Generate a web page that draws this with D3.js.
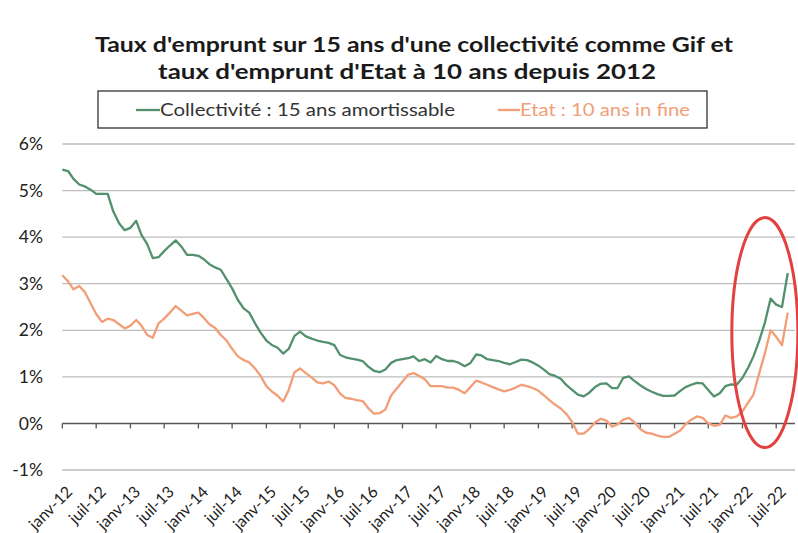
<!DOCTYPE html>
<html>
<head>
<meta charset="utf-8">
<script src="https://cdnjs.cloudflare.com/ajax/libs/d3/7.8.5/d3.min.js"></script>
<style>
  body { margin: 0; background: #fff; }
  svg { display: block; font-family: Lato, "Open Sans", sans-serif; }
</style>
</head>
<body>
<svg id="chart"></svg>
<script>
// titre et légende
const titleLines = [
  "Taux d'emprunt sur 15 ans d'une collectivité comme Gif et",
  "taux d'emprunt d'Etat à 10 ans depuis 2012"
];
const seriesNames = ["Collectivité : 15 ans amortissable", "Etat : 10 ans in fine"];

// séries mensuelles, janv-12 -> sept-22 (en %)
const collectivite = [
  5.45, 5.42, 5.25, 5.13, 5.09, 5.02, 4.93, 4.93, 4.93, 4.55, 4.30, 4.15,
  4.20, 4.35, 4.05, 3.85, 3.55, 3.57, 3.70, 3.82, 3.93, 3.80, 3.62, 3.62,
  3.60, 3.52, 3.42, 3.35, 3.30, 3.10, 2.90, 2.65, 2.47, 2.38, 2.15, 1.95,
  1.78, 1.68, 1.63, 1.50, 1.60, 1.88, 1.97, 1.87, 1.82, 1.78, 1.75, 1.73,
  1.68, 1.47, 1.42, 1.39, 1.37, 1.34, 1.22, 1.13, 1.10, 1.16, 1.30, 1.36,
  1.38, 1.40, 1.44, 1.34, 1.38, 1.31, 1.45, 1.38, 1.34, 1.34, 1.30, 1.23,
  1.30, 1.48, 1.46, 1.38, 1.36, 1.34, 1.30, 1.27, 1.32, 1.37, 1.36, 1.31,
  1.24, 1.15, 1.06, 1.02, 0.96, 0.82, 0.72, 0.62, 0.58, 0.66, 0.78, 0.85,
  0.86, 0.76, 0.76, 0.98, 1.01, 0.91, 0.82, 0.74, 0.68, 0.63, 0.59, 0.59,
  0.60, 0.70, 0.78, 0.83, 0.87, 0.86, 0.72, 0.58, 0.65, 0.80, 0.84, 0.83,
  0.98, 1.20, 1.44, 1.78, 2.16, 2.68, 2.55, 2.50, 3.23
];
const etat = [
  3.18, 3.05, 2.88, 2.95, 2.82, 2.58, 2.35, 2.18, 2.25, 2.22, 2.13, 2.04,
  2.10, 2.22, 2.10, 1.90, 1.84, 2.15, 2.25, 2.38, 2.52, 2.42, 2.32, 2.35,
  2.38, 2.26, 2.13, 2.05, 1.90, 1.78, 1.60, 1.44, 1.36, 1.31, 1.18, 1.02,
  0.80, 0.68, 0.60, 0.47, 0.72, 1.10, 1.18, 1.08, 0.99, 0.88, 0.86, 0.90,
  0.82, 0.64, 0.55, 0.53, 0.50, 0.48, 0.33, 0.21, 0.22, 0.30, 0.60, 0.75,
  0.90, 1.05, 1.08, 1.02, 0.95, 0.80, 0.80, 0.80, 0.77, 0.77, 0.72, 0.65,
  0.78, 0.92, 0.88, 0.83, 0.78, 0.73, 0.69, 0.72, 0.77, 0.83, 0.80, 0.76,
  0.70, 0.60, 0.50, 0.40, 0.32, 0.20, 0.03, -0.22, -0.22, -0.12, 0.02, 0.10,
  0.06, -0.07, -0.02, 0.08, 0.12, 0.02, -0.12, -0.20, -0.22, -0.26, -0.29, -0.29,
  -0.22, -0.15, -0.02, 0.08, 0.15, 0.12, 0.00, -0.05, -0.03, 0.17, 0.12, 0.15,
  0.26, 0.45, 0.62, 1.08, 1.50, 2.00, 1.86, 1.68, 2.38
];

const yTicks = [-1, 0, 1, 2, 3, 4, 5, 6];
const xTickLabels = [
  "janv-12", "juil-12", "janv-13", "juil-13", "janv-14", "juil-14",
  "janv-15", "juil-15", "janv-16", "juil-16", "janv-17", "juil-17",
  "janv-18", "juil-18", "janv-19", "juil-19", "janv-20", "juil-20",
  "janv-21", "juil-21", "janv-22", "juil-22"
];

const width = 798, height = 533;
const colGreen = "#52906e";
const colOrange = "#f29e78";

const svg = d3.select("#chart").attr("width", width).attr("height", height);

const months = d3.timeMonth.range(new Date(2012, 0, 1), new Date(2022, 9, 1));
const tickDates = d3.timeMonth.every(6).range(new Date(2012, 0, 1), new Date(2022, 8, 1));

const x = d3.scaleTime()
  .domain([new Date(2012, 0, 1), new Date(2022, 9, 10)])
  .range([62.3, 795]);
const y = d3.scaleLinear().domain([-1, 6]).range([470, 144]);

// grille horizontale
svg.append("g")
  .selectAll("line")
  .data(yTicks.filter(d => d !== 0))
  .enter().append("line")
  .attr("x1", x.range()[0]).attr("x2", x.range()[1])
  .attr("y1", d => y(d)).attr("y2", d => y(d))
  .attr("stroke", "#bdbdbd")
  .attr("stroke-width", 1.3);

// axe à 0%
svg.append("line")
  .attr("x1", x.range()[0]).attr("x2", x.range()[1])
  .attr("y1", y(0)).attr("y2", y(0))
  .attr("stroke", "#555")
  .attr("stroke-width", 1.6);

svg.append("g")
  .selectAll("line")
  .data(tickDates)
  .enter().append("line")
  .attr("x1", d => x(d)).attr("x2", d => x(d))
  .attr("y1", y(0)).attr("y2", y(0) + 5)
  .attr("stroke", "#555")
  .attr("stroke-width", 1.3);

// libellés Y
svg.append("g")
  .selectAll("text")
  .data(yTicks)
  .enter().append("text")
  .attr("x", 43)
  .attr("y", d => y(d))
  .attr("dy", "0.35em")
  .attr("text-anchor", "end")
  .attr("font-size", 17.5)
  .attr("fill", "#222")
  .text(d => d + "%");

// libellés X (pivotés)
svg.append("g")
  .selectAll("text")
  .data(tickDates)
  .enter().append("text")
  .attr("transform", d => `translate(${x(d) + 7},${489}) rotate(-45)`)
  .attr("text-anchor", "end")
  .attr("dy", "0.35em")
  .attr("font-size", 16)
  .attr("fill", "#222")
  .text((d, i) => xTickLabels[i]);

// courbes
const line = d3.line()
  .x((d, i) => x(months[i]))
  .y(d => y(d));

svg.append("path")
  .datum(etat)
  .attr("d", line)
  .attr("fill", "none")
  .attr("stroke", colOrange)
  .attr("stroke-width", 2.3)
  .attr("stroke-linejoin", "round");

svg.append("path")
  .datum(collectivite)
  .attr("d", line)
  .attr("fill", "none")
  .attr("stroke", colGreen)
  .attr("stroke-width", 2.3)
  .attr("stroke-linejoin", "round");

// ellipse rouge sur 2022
svg.append("ellipse")
  .attr("cx", x(new Date(2022, 4, 1)))
  .attr("cy", y(1.95))
  .attr("rx", 33)
  .attr("ry", 115)
  .attr("fill", "none")
  .attr("stroke", "#e2413f")
  .attr("stroke-width", 3);

// titre
svg.append("g")
  .selectAll("text")
  .data(titleLines)
  .enter().append("text")
  .attr("x", (d, i) => i === 0 ? 414 : 407)
  .attr("y", (d, i) => 52 + i * 27)
  .attr("text-anchor", "middle")
  .attr("font-size", 21)
  .attr("font-weight", "bold")
  .attr("fill", "#1a1a1a")
  .attr("textLength", (d, i) => i === 0 ? 638 : 498)
  .attr("lengthAdjust", "spacingAndGlyphs")
  .text(d => d);

// légende
const legend = svg.append("g");
legend.append("rect")
  .attr("x", 98).attr("y", 91)
  .attr("width", 609).attr("height", 37)
  .attr("fill", "#fff")
  .attr("stroke", "#333")
  .attr("stroke-width", 1.3);

const legendItems = [
  { name: seriesNames[0], color: colGreen, textColor: "#333", x0: 136, x1: 160, w: 295 },
  { name: seriesNames[1], color: colOrange, textColor: colOrange, x0: 498, x1: 520, w: 170 }
];
legendItems.forEach(it => {
  legend.append("line")
    .attr("x1", it.x0).attr("x2", it.x1)
    .attr("y1", 110).attr("y2", 110)
    .attr("stroke", it.color)
    .attr("stroke-width", 2.3);
  legend.append("text")
    .attr("x", it.x1)
    .attr("y", 116)
    .attr("font-size", 18)
    .attr("fill", it.textColor)
    .attr("textLength", it.w)
    .attr("lengthAdjust", "spacingAndGlyphs")
    .text(it.name);
});
</script>
</body>
</html>
